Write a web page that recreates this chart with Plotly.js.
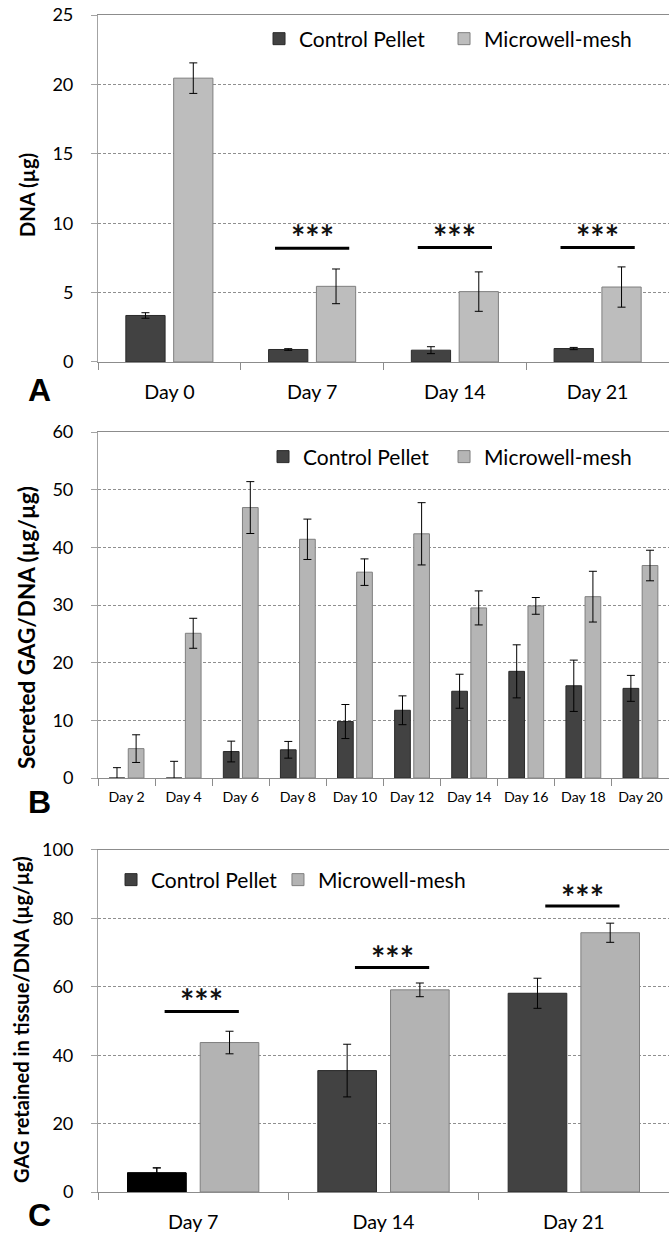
<!DOCTYPE html>
<html>
<head>
<meta charset="utf-8">
<script src="https://cdn.plot.ly/plotly-3.0.1.min.js"></script>
<style>html,body{margin:0;padding:0;background:#fff;}#chart{width:669px;height:1234px;}</style>
</head>
<body>
<div id="chart"></div>
<script>
// ---------- Panel A: DNA content ----------
const daysA = ["Day 0", "Day 7", "Day 14", "Day 21"];
const dnaControl = [3.35, 0.90, 0.85, 0.97];
const dnaControlErr = [0.20, 0.06, 0.25, 0.08];
const dnaMesh = [20.45, 5.45, 5.07, 5.40];
const dnaMeshErr = [1.10, 1.25, 1.42, 1.45];
const sigDaysA = ["Day 7", "Day 14", "Day 21"];
const sigLineA = [8.2, 8.25, 8.25];
const sigStarA = [9.5, 9.5, 9.5];

// ---------- Panel B: secreted GAG/DNA ----------
const daysB = ["Day 2", "Day 4", "Day 6", "Day 8", "Day 10", "Day 12", "Day 14", "Day 16", "Day 18", "Day 20"];
const secControl = [0, 0, 4.6, 4.9, 9.8, 11.75, 15.05, 18.5, 16.0, 15.55];
const secControlErr = [1.8, 2.9, 1.8, 1.45, 2.95, 2.5, 2.95, 4.6, 4.45, 2.25];
const secMesh = [5.1, 25.1, 46.9, 41.4, 35.7, 42.35, 29.5, 29.85, 31.45, 36.85];
const secMeshErr = [2.4, 2.6, 4.5, 3.5, 2.3, 5.4, 2.95, 1.45, 4.4, 2.65];

// ---------- Panel C: GAG retained in tissue/DNA ----------
const daysC = ["Day 7", "Day 14", "Day 21"];
const retControl = [5.6, 35.5, 58.1];
const retControlErr = [1.45, 7.7, 4.4];
const retMesh = [43.7, 59.1, 75.8];
const retMeshErr = [3.3, 2.0, 2.8];
const sigDaysC = ["Day 7", "Day 14", "Day 21"];
const sigLineC = [52.8, 65.6, 83.6];
const sigStarC = [57.9, 70.5, 88.4];

const seriesNames = ["Control Pellet", "Microwell-mesh"];
const yTitles = ["DNA (µg)", "Secreted GAG/DNA (µg/µg)", "GAG retained in tissue/DNA (µg/µg)"];
const panelLetters = ["A", "B", "C"];

// ---------- styles ----------
const CTRL = '#424242', CTRL_LINE = '#2a2a2a';
const MESH = '#bdbdbd', MESH_B = '#b5b5b5', MESH_C = '#b3b3b3', MESH_LINE = '#7f7f7f';
const FAM = 'Lato';
const FONT = 'Lato, "Open Sans", sans-serif';

// font size that gives a text the same pixel length as in the reference figure
const ctx = document.createElement('canvas').getContext('2d');
function fitSize(text, weight, target) {
  ctx.font = weight + ' 100px ' + FAM;
  const w = ctx.measureText(text).width;
  return w > 0 ? Math.round(1000 * target / w) / 10 : 18;
}
const tickA = fitSize('Day 0', 'normal', 51);
const tickB = fitSize('Day 10', 'normal', 45);
const tickY = fitSize('15', 'normal', 21);
const legSize = fitSize('Control Pellet', 'normal', 126);
const starSize = fitSize('***', 'bold', 43);
const titleSizes = [fitSize(yTitles[0], 'bold', 85), fitSize(yTitles[1], 'bold', 283), fitSize(yTitles[2], 'bold', 328)];

function errY(arr) {
  return {type: 'data', array: arr, visible: true, color: '#000', thickness: 1, width: 4};
}
function barTrace(name, x, y, err, color, lineColor, xa, ya, legend, offset, width, showlegend) {
  return {
    type: 'bar', name: name, x: x, y: y, xaxis: xa, yaxis: ya, legend: legend,
    offset: offset, width: width, showlegend: showlegend,
    marker: {color: color, line: {color: lineColor, width: 1}},
    error_y: errY(err), hoverinfo: 'x+y+name'
  };
}

const traces = [
  barTrace(seriesNames[0], daysA, dnaControl, dnaControlErr, CTRL, CTRL_LINE, 'x', 'y', 'legend', -0.305, 0.275, true),
  barTrace(seriesNames[1], daysA, dnaMesh, dnaMeshErr, MESH, MESH_LINE, 'x', 'y', 'legend2', 0.03, 0.275, true),
  barTrace(seriesNames[0], daysB, secControl, secControlErr, CTRL, CTRL_LINE, 'x2', 'y2', 'legend3', -0.305, 0.275, true),
  barTrace(seriesNames[1], daysB, secMesh, secMeshErr, MESH_B, MESH_LINE, 'x2', 'y2', 'legend4', 0.03, 0.275, true),
  barTrace(seriesNames[0], daysC, retControl, retControlErr, CTRL, CTRL_LINE, 'x3', 'y3', 'legend5', -0.345, 0.308, true),
  barTrace(seriesNames[1], daysC, retMesh, retMeshErr, MESH_C, MESH_LINE, 'x3', 'y3', 'legend6', 0.037, 0.308, true),
  // the Day 7 control pellet bar in panel C is drawn in black
  barTrace(seriesNames[0], [daysC[0]], [retControl[0]], [retControlErr[0]], '#000000', '#000000', 'x3', 'y3', 'legend5', -0.345, 0.308, false)
];

const shapes = [];
const annotations = [];
function addSig(days, cats, lineLevels, starLevels, xa, ya, center, half) {
  days.forEach((d, i) => {
    const idx = cats.indexOf(d);
    shapes.push({type: 'line', xref: xa, yref: ya, x0: idx + center - half, x1: idx + center + half,
      y0: lineLevels[i], y1: lineLevels[i], line: {color: '#000', width: 3}});
    annotations.push({xref: xa, yref: ya, x: idx + center, y: starLevels[i], text: '***', showarrow: false,
      xanchor: 'center', yanchor: 'middle', yshift: -7, font: {family: FONT, size: starSize, weight: 'bold', color: '#111'}});
  });
}
addSig(sigDaysA, daysA, sigLineA, sigStarA, 'x', 'y', 0.0, 0.26);
addSig(sigDaysC, daysC, sigLineC, sigStarC, 'x3', 'y3', 0.045, 0.195);

// panel letters and y-axis titles (paper coordinates)
const letterPos = [[-0.1016, 0.6814], [-0.1016, 0.3314], [-0.1016, -0.0195]];
const titlePos = [[-0.1243, 0.847], [-0.1243, 0.4792], [-0.1349, 0.147]];
panelLetters.forEach((t, i) => {
  annotations.push({xref: 'paper', yref: 'paper', x: letterPos[i][0], y: letterPos[i][1], text: t, showarrow: false,
    xanchor: 'center', yanchor: 'middle', font: {family: '"Liberation Sans", Arial, sans-serif', size: 32, weight: 'bold', color: '#000'}});
  annotations.push({xref: 'paper', yref: 'paper', x: titlePos[i][0], y: titlePos[i][1], text: yTitles[i], showarrow: false,
    textangle: -90, xanchor: 'center', yanchor: 'middle', font: {family: FONT, size: titleSizes[i], weight: 'bold', color: '#000'}});
});

function yAxis(domain, range, dtick) {
  return {
    domain: domain, range: range, dtick: dtick, tick0: 0, fixedrange: true,
    showgrid: true, gridcolor: '#8f8f8f', griddash: '3px,2px', gridwidth: 1,
    showline: true, linecolor: '#a3a3a3', linewidth: 1,
    ticks: 'outside', ticklen: 6, tickcolor: '#a3a3a3', ticklabelstandoff: 14,
    tickfont: {family: FONT, size: tickY, color: '#000'}, zeroline: false
  };
}
function xAxis(anchor, n, tickSize, standoff) {
  return {
    anchor: anchor, domain: [0, 1], type: 'category', range: [-0.5, n - 0.5], fixedrange: true,
    showline: true, mirror: true, linecolor: '#8c8c8c', linewidth: 1,
    ticks: 'outside', tickson: 'boundaries', ticklen: 7, tickcolor: '#8c8c8c',
    ticklabelstandoff: standoff, tickfont: {family: FONT, size: tickSize, color: '#000'},
    showgrid: false, zeroline: false
  };
}
function legendAt(x, y) {
  return {x: x, y: y, xanchor: 'left', yanchor: 'middle', orientation: 'h', bgcolor: 'rgba(0,0,0,0)',
    font: {family: FONT, size: legSize, color: '#000'}, itemclick: false, itemdoubleclick: false};
}

const layout = {
  width: 669, height: 1234,
  margin: {l: 98, r: 0, t: 15, b: 42},
  paper_bgcolor: '#fff', plot_bgcolor: '#fff',
  barmode: 'group',
  font: {family: FONT, color: '#000'},
  xaxis: xAxis('y', daysA.length, tickA, 12),
  yaxis: yAxis([0.7052, 1], [0, 25], 5),
  xaxis2: xAxis('y2', daysB.length, tickB, 6),
  yaxis2: yAxis([0.3517, 0.6457], [0, 60], 10),
  xaxis3: xAxis('y3', daysC.length, tickA, 12),
  yaxis3: yAxis([0, 0.2906], [0, 100], 20),
  legend: legendAt(0.2820, 0.9796),
  legend2: legendAt(0.6060, 0.9796),
  legend3: legendAt(0.2890, 0.6245),
  legend4: legendAt(0.6060, 0.6245),
  legend5: legendAt(0.0228, 0.2651),
  legend6: legendAt(0.3152, 0.2651),
  shapes: shapes,
  annotations: annotations
};

Plotly.newPlot('chart', traces, layout, {displayModeBar: false});
</script>
</body>
</html>
